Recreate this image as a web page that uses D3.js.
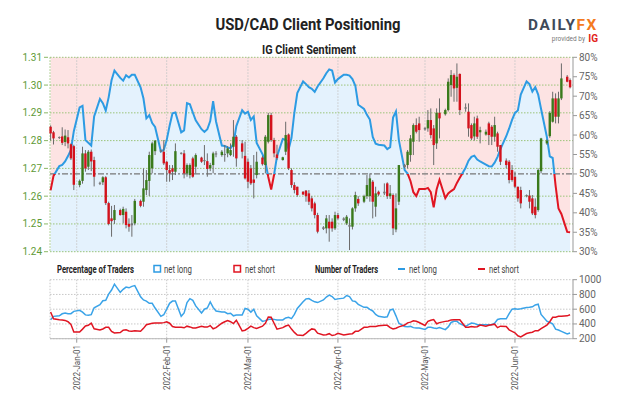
<!DOCTYPE html>
<html><head><meta charset="utf-8">
<script src="https://cdn.jsdelivr.net/npm/d3@7"></script>
<style>body{margin:0;background:#fff;} svg{display:block;font-family:Roboto,"Liberation Sans",Arial,sans-serif;}</style>
</head><body><svg id="chart" width="624" height="416"></svg>
<script>
const dates = [
"2021-12-23","2021-12-24","2021-12-26","2021-12-27","2021-12-28","2021-12-29","2021-12-30","2021-12-31",
"2022-01-02","2022-01-03","2022-01-04","2022-01-05","2022-01-06","2022-01-07",
"2022-01-09","2022-01-10","2022-01-11","2022-01-12","2022-01-13","2022-01-14",
"2022-01-16","2022-01-17","2022-01-18","2022-01-19","2022-01-20","2022-01-21",
"2022-01-23","2022-01-24","2022-01-25","2022-01-26","2022-01-27","2022-01-28",
"2022-01-30","2022-01-31","2022-02-01","2022-02-02","2022-02-03","2022-02-04",
"2022-02-06","2022-02-07","2022-02-08","2022-02-09","2022-02-10","2022-02-11",
"2022-02-13","2022-02-14","2022-02-15","2022-02-16","2022-02-17","2022-02-18",
"2022-02-20","2022-02-21","2022-02-22","2022-02-23","2022-02-24","2022-02-25",
"2022-02-27","2022-02-28","2022-03-01","2022-03-02","2022-03-03","2022-03-04",
"2022-03-06","2022-03-07","2022-03-08","2022-03-09","2022-03-10","2022-03-11",
"2022-03-13","2022-03-14","2022-03-15","2022-03-16","2022-03-17","2022-03-18",
"2022-03-20","2022-03-21","2022-03-22","2022-03-23","2022-03-24","2022-03-25",
"2022-03-27","2022-03-28","2022-03-29","2022-03-30","2022-03-31","2022-04-01",
"2022-04-03","2022-04-04","2022-04-05","2022-04-06","2022-04-07","2022-04-08",
"2022-04-10","2022-04-11","2022-04-12","2022-04-13","2022-04-14","2022-04-15",
"2022-04-17","2022-04-18","2022-04-19","2022-04-20","2022-04-21","2022-04-22",
"2022-04-24","2022-04-25","2022-04-26","2022-04-27","2022-04-28","2022-04-29",
"2022-05-01","2022-05-02","2022-05-03","2022-05-04","2022-05-05","2022-05-06",
"2022-05-08","2022-05-09","2022-05-10","2022-05-11","2022-05-12","2022-05-13",
"2022-05-15","2022-05-16","2022-05-17","2022-05-18","2022-05-19","2022-05-20",
"2022-05-22","2022-05-23","2022-05-24","2022-05-25","2022-05-26","2022-05-27",
"2022-05-29","2022-05-30","2022-05-31","2022-06-01","2022-06-02","2022-06-03",
"2022-06-05","2022-06-06","2022-06-07","2022-06-08","2022-06-09","2022-06-10",
"2022-06-12","2022-06-13","2022-06-14","2022-06-15","2022-06-16","2022-06-17",
"2022-06-19","2022-06-20"];

const open = [
1.2850,1.2830,1.2810,1.2815,1.2795,1.2812,1.2787,1.2780,
1.2640,1.2655,1.2754,1.2706,1.2760,1.2730,
1.2645,1.2650,1.2668,1.2575,1.2520,1.2514,
1.2550,1.2532,1.2544,1.2500,1.2495,1.2502,
1.2583,1.2580,1.2622,1.2655,1.2700,1.2762,
1.2765,1.2760,1.2724,1.2694,1.2700,1.2688,
1.2754,1.2754,1.2682,1.2676,1.2736,1.2706,
1.2739,1.2730,1.2726,1.2700,1.2712,1.2754,
1.2748,1.2752,1.2754,1.2748,1.2778,1.2814,
1.2790,1.2745,1.2724,1.2700,1.2660,1.2676,
1.2739,1.2712,1.2796,1.2892,1.2802,1.2750,
1.2730,1.2760,1.2822,1.2694,1.2640,1.2634,
1.2616,1.2620,1.2610,1.2592,1.2574,1.2532,
1.2488,1.2484,1.2508,1.2508,1.2484,1.2532,
1.2520,1.2502,1.2496,1.2490,1.2556,1.2590,
1.2580,1.2600,1.2600,1.2652,1.2562,1.2616,
1.2610,1.2646,1.2600,1.2604,1.2480,1.2580,
1.2705,1.2712,1.2748,1.2796,1.2856,1.2862,
1.2840,1.2844,1.2874,1.2844,1.2790,1.2900,
1.2895,1.2910,1.3000,1.3036,1.2990,1.3040,
1.2920,1.2904,1.2856,1.2815,1.2880,1.2830,
1.2822,1.2862,1.2850,1.2814,1.2826,1.2784,
1.2728,1.2724,1.2694,1.2670,1.2634,1.2622,
1.2600,1.2602,1.2592,1.2562,1.2550,1.2690,
1.2790,1.2816,1.2868,1.2952,1.2886,1.2952,
1.3030,1.3018];

const high = [
1.2855,1.2835,1.2815,1.2848,1.2840,1.2838,1.2790,1.2785,
1.2660,1.2778,1.2766,1.2766,1.2768,1.2742,
1.2652,1.2672,1.2672,1.2580,1.2565,1.2568,
1.2555,1.2562,1.2556,1.2520,1.2532,1.2590,
1.2588,1.2700,1.2694,1.2760,1.2796,1.2802,
1.2768,1.2802,1.2726,1.2712,1.2712,1.2790,
1.2758,1.2766,1.2718,1.2718,1.2742,1.2754,
1.2742,1.2784,1.2754,1.2720,1.2760,1.2762,
1.2766,1.2784,1.2780,1.2790,1.2874,1.2820,
1.2802,1.2796,1.2736,1.2712,1.2748,1.2760,
1.2745,1.2820,1.2900,1.2900,1.2810,1.2785,
1.2742,1.2868,1.2826,1.2700,1.2650,1.2634,
1.2618,1.2622,1.2622,1.2600,1.2580,1.2540,
1.2492,1.2532,1.2532,1.2520,1.2544,1.2540,
1.2524,1.2532,1.2520,1.2560,1.2616,1.2600,
1.2605,1.2676,1.2682,1.2658,1.2634,1.2620,
1.2646,1.2650,1.2640,1.2610,1.2610,1.2712,
1.2716,1.2766,1.2820,1.2862,1.2880,1.2886,
1.2848,1.2910,1.2916,1.2856,1.2916,1.2952,
1.2915,1.3024,1.3054,1.3042,1.3078,1.3042,
1.2934,1.2934,1.2862,1.2886,1.2890,1.2850,
1.2840,1.2868,1.2856,1.2886,1.2832,1.2784,
1.2736,1.2730,1.2712,1.2688,1.2634,1.2634,
1.2606,1.2622,1.2604,1.2592,1.2700,1.2810,
1.2805,1.2906,1.2976,1.2970,1.2976,1.3078,
1.3036,1.3024];

const low = [
1.2800,1.2786,1.2806,1.2784,1.2780,1.2772,1.2730,1.2622,
1.2632,1.2645,1.2688,1.2694,1.2690,1.2635,
1.2640,1.2640,1.2568,1.2495,1.2454,1.2500,
1.2530,1.2502,1.2484,1.2472,1.2454,1.2495,
1.2560,1.2562,1.2604,1.2600,1.2682,1.2748,
1.2758,1.2712,1.2652,1.2652,1.2658,1.2676,
1.2750,1.2664,1.2670,1.2664,1.2666,1.2682,
1.2720,1.2712,1.2670,1.2690,1.2682,1.2740,
1.2742,1.2724,1.2740,1.2744,1.2742,1.2706,
1.2736,1.2660,1.2628,1.2640,1.2592,1.2664,
1.2710,1.2682,1.2790,1.2796,1.2740,1.2730,
1.2728,1.2748,1.2694,1.2630,1.2610,1.2598,
1.2604,1.2580,1.2568,1.2545,1.2520,1.2466,
1.2478,1.2466,1.2436,1.2472,1.2478,1.2515,
1.2510,1.2496,1.2406,1.2480,1.2544,1.2565,
1.2575,1.2590,1.2580,1.2520,1.2526,1.2600,
1.2604,1.2590,1.2590,1.2460,1.2470,1.2568,
1.2700,1.2700,1.2724,1.2748,1.2826,1.2796,
1.2836,1.2832,1.2808,1.2712,1.2770,1.2808,
1.2890,1.2905,1.2958,1.2940,1.2940,1.2892,
1.2904,1.2814,1.2802,1.2800,1.2806,1.2790,
1.2818,1.2784,1.2784,1.2796,1.2760,1.2712,
1.2700,1.2646,1.2652,1.2628,1.2580,1.2556,
1.2596,1.2556,1.2532,1.2520,1.2544,1.2682,
1.2785,1.2810,1.2865,1.2862,1.2862,1.2946,
1.3010,1.2988];

const close = [
1.2826,1.2808,1.2813,1.2792,1.2818,1.2790,1.2736,1.2641,
1.2655,1.2754,1.2700,1.2760,1.2725,1.2670,
1.2648,1.2668,1.2575,1.2500,1.2510,1.2550,
1.2532,1.2554,1.2496,1.2490,1.2502,1.2583,
1.2565,1.2628,1.2658,1.2748,1.2790,1.2800,
1.2760,1.2718,1.2694,1.2682,1.2688,1.2762,
1.2756,1.2682,1.2712,1.2712,1.2670,1.2748,
1.2724,1.2726,1.2698,1.2712,1.2754,1.2750,
1.2760,1.2748,1.2772,1.2766,1.2814,1.2736,
1.2760,1.2664,1.2652,1.2646,1.2648,1.2724,
1.2715,1.2814,1.2892,1.2802,1.2754,1.2737,
1.2740,1.2820,1.2700,1.2640,1.2622,1.2604,
1.2606,1.2600,1.2580,1.2556,1.2532,1.2472,
1.2482,1.2520,1.2484,1.2484,1.2532,1.2520,
1.2514,1.2526,1.2490,1.2556,1.2604,1.2574,
1.2600,1.2640,1.2664,1.2580,1.2610,1.2606,
1.2616,1.2600,1.2610,1.2484,1.2556,1.2712,
1.2712,1.2760,1.2808,1.2856,1.2832,1.2838,
1.2846,1.2874,1.2820,1.2784,1.2900,1.2880,
1.2910,1.3012,1.3036,1.2988,1.3030,1.2910,
1.2915,1.2844,1.2808,1.2862,1.2814,1.2838,
1.2832,1.2820,1.2814,1.2856,1.2778,1.2724,
1.2712,1.2658,1.2658,1.2634,1.2592,1.2574,
1.2604,1.2580,1.2538,1.2532,1.2694,1.2808,
1.2800,1.2900,1.2952,1.2886,1.2952,1.3024,
1.3012,1.2992];

const pctLong = [
45.8,49.5,52.0,52.3,53.2,54.6,56.2,61.0,
67.1,67.5,58.7,58.0,57.3,64.8,
69.3,68.2,66.3,69.7,74.1,76.6,
74.7,74.0,75.4,74.8,75.5,75.5,
72.3,69.4,64.3,65.1,63.1,62.1,
55.8,56.2,58.7,62.4,65.6,65.8,
60.7,61.2,68.2,67.9,65.8,63.8,
61.5,60.8,61.5,63.6,68.7,63.5,
57.3,57.2,56.8,56.6,57.7,62.3,
66.4,65.5,66.0,63.9,64.8,58.0,
55.1,53.2,49.2,46.0,49.8,54.5,
59.0,58.8,56.3,59.3,65.8,70.8,
73.8,73.1,72.3,71.9,71.1,72.5,
74.6,75.9,76.9,76.6,73.5,74.4,
75.5,75.5,75.3,74.4,72.7,67.8,
66.7,65.2,64.0,59.5,57.8,57.5,
57.3,56.4,56.9,64.5,66.1,58.7,
51.0,50.1,48.2,45.3,44.3,46.1,
46.1,46.4,45.3,41.4,46.0,48.5,
43.8,45.0,45.6,46.1,47.7,49.0,
51.6,53.4,54.4,54.7,53.7,53.2,
52.4,52.0,51.9,52.9,54.4,56.4,
59.7,61.7,63.9,65.7,66.3,70.4,
73.8,73.1,71.2,72.3,70.4,66.7,
59.5,54.5,54.1,47.0,41.1,39.7,
35.1,35.0];

const longTraders = [
458,503,510,538,548,540,540,571,
585,560,523,517,526,620,
661,715,720,805,860,940,
828,870,900,890,910,920,
768,725,710,680,680,616,
503,525,600,680,710,710,
503,550,690,743,720,645,
548,600,616,700,625,575,
562,562,540,545,510,520,
520,610,600,560,600,510,
435,445,460,468,462,455,
455,482,490,473,530,610,
700,740,745,720,700,690,
725,765,790,772,732,740,
750,785,770,712,704,665,
625,625,597,576,530,503,
492,498,590,600,510,410,
365,362,367,350,345,345,
325,354,354,345,340,350,
323,360,420,435,435,403,
368,390,412,408,390,390,
390,390,390,410,460,470,
470,540,600,605,600,606,
623,625,632,658,668,530,
437,420,402,330,318,300,
264,277];

const shortTraders = [
562,470,458,455,448,430,395,290,
292,330,372,381,410,335,
318,332,354,354,300,277,
283,315,320,305,300,307,
300,340,390,400,408,412,
412,418,430,410,365,354,
354,348,370,360,345,345,
370,360,358,378,335,350,
410,430,445,430,405,450,
305,315,340,370,350,338,
370,410,495,490,410,330,
350,372,385,330,285,250,
245,272,305,333,325,275,
250,255,268,243,252,272,
250,258,264,268,300,300,
354,354,366,366,367,375,
381,381,350,332,342,360,
385,415,425,443,437,420,
380,435,450,460,403,418,
435,440,455,458,458,458,
355,354,365,360,362,385,
370,381,390,397,350,370,
365,320,300,280,240,225,
270,280,288,309,309,335,
385,430,490,492,503,503,
510,524];

const priceTicks = [1.24,1.25,1.26,1.27,1.28,1.29,1.30,1.31];
const pctTicks = [30,35,40,45,50,55,60,65,70,75,80];
const countTicks = [200,400,600,800,1000];
const monthTicks = ["2022-01-01","2022-02-01","2022-03-01","2022-04-01","2022-05-01","2022-06-01"];

const svg = d3.select("#chart");
const X0 = 50, X1 = 573, Y0 = 57.3, Y1 = 251.7, B0 = 279.7, B1 = 338.7;
const parse = d3.utcParse("%Y-%m-%d");
const x = d3.scaleUtc().domain([new Date(Date.UTC(2021,11,22,19)), new Date(Date.UTC(2022,5,21))]).range([X0, X1]);
const yP = d3.scaleLinear().domain([1.24,1.31]).range([Y1,Y0]);
const yS = d3.scaleLinear().domain([30,80]).range([Y1,Y0]);
const yC = d3.scaleLinear().domain([200,1000]).range([B1,B0]);
const data = dates.map((d,i)=>({date:parse(d), o:open[i], h:high[i], l:low[i], c:close[i], p:pctLong[i], nl:longTraders[i], ns:shortTraders[i]}));
const months = monthTicks.map(parse);

const BLUE = "#2d9be3", RED = "#e01522";

// Titles
svg.append("text").attr("x",308).attr("y",30).attr("text-anchor","middle")
  .attr("font-size",17).attr("font-weight","bold").attr("fill","#222")
  .attr("textLength",185).attr("lengthAdjust","spacingAndGlyphs").text("USD/CAD Client Positioning");
svg.append("text").attr("x",309).attr("y",54).attr("text-anchor","middle")
  .attr("font-size",12).attr("font-weight","bold").attr("fill","#222")
  .attr("textLength",94).attr("lengthAdjust","spacingAndGlyphs").text("IG Client Sentiment");
// logo
const logo = svg.append("text").attr("x",528).attr("y",30).attr("font-size",14).attr("font-weight","bold")
  .attr("letter-spacing",1.5).attr("textLength",70).attr("lengthAdjust","spacingAndGlyphs");
logo.append("tspan").attr("fill","#3e4a5a").text("DAILY");
logo.append("tspan").attr("fill","#f47a20").text("FX");
svg.append("text").attr("x",585).attr("y",41).attr("text-anchor","end").attr("font-size",6.5).attr("fill","#777").text("provided by");
svg.append("text").attr("x",598).attr("y",41.5).attr("text-anchor","end").attr("font-size",10).attr("font-weight","bold").attr("fill","#e2231a").text("IG");

// fills
svg.append("path").datum(data).attr("fill","#fde3e3")
  .attr("d", d3.area().x(d=>x(d.date)).y0(Y0).y1(d=>yS(d.p)));
svg.append("path").datum(data).attr("fill","#e4f2fd")
  .attr("d", d3.area().x(d=>x(d.date)).y0(Y1).y1(d=>yS(d.p)));

// grid main
const g = svg.append("g");
g.selectAll(".vg").data(months).join("line").attr("x1",d=>x(d)).attr("x2",d=>x(d))
  .attr("y1",Y0).attr("y2",Y1).attr("stroke","#c8c8c8").attr("stroke-dasharray","1.5,1.5");
g.selectAll(".hg").data(priceTicks).join("line").attr("x1",X0).attr("x2",X1)
  .attr("y1",d=>yP(d)).attr("y2",d=>yP(d)).attr("stroke","#9cc47a").attr("stroke-dasharray","1.5,1.5");
g.append("line").attr("x1",X0).attr("x2",X0).attr("y1",Y0).attr("y2",Y1).attr("stroke","#9cc47a").attr("stroke-dasharray","1.5,1.5");
g.append("line").attr("x1",X0).attr("x2",X1).attr("y1",yS(50)).attr("y2",yS(50))
  .attr("stroke","#777").attr("stroke-width",1.3).attr("stroke-dasharray","6,2,2,2");

// sentiment line, split at 50%
const defs = svg.append("defs");
defs.append("clipPath").attr("id","above").append("rect").attr("x",0).attr("y",0).attr("width",624).attr("height",yS(50));
defs.append("clipPath").attr("id","below").append("rect").attr("x",0).attr("y",yS(50)).attr("width",624).attr("height",416);
const sLine = d3.line().x(d=>x(d.date)).y(d=>yS(d.p));
svg.append("path").datum(data).attr("d",sLine).attr("fill","none").attr("stroke",BLUE).attr("stroke-width",2).attr("clip-path","url(#above)");
svg.append("path").datum(data).attr("d",sLine).attr("fill","none").attr("stroke",RED).attr("stroke-width",2).attr("clip-path","url(#below)");

// candles
const cg = svg.append("g");
cg.selectAll("line").data(data).join("line")
  .attr("x1",d=>x(d.date)).attr("x2",d=>x(d.date)).attr("y1",d=>yP(d.h)).attr("y2",d=>yP(d.l))
  .attr("stroke","#6b6b6b").attr("stroke-width",1);
cg.selectAll("rect").data(data).join("rect")
  .attr("x",d=>x(d.date)-1.2).attr("width",2.4)
  .attr("y",d=>yP(Math.max(d.o,d.c))).attr("height",d=>Math.max(1,Math.abs(yP(d.o)-yP(d.c))))
  .attr("fill",d=> Math.abs(d.c-d.o)<0.0008 ? "#777" : (d.c>d.o ? "#3a7a1c" : "#d3121c"));

// left axis
const la = svg.append("g");
la.selectAll("text").data(priceTicks).join("text").attr("x",42).attr("y",d=>yP(d)).attr("dy","0.35em")
  .attr("text-anchor","end").attr("font-size",10).attr("fill","#5e9a35").text(d=>d.toFixed(2));
la.selectAll("line").data(priceTicks).join("line").attr("x1",44).attr("x2",48).attr("y1",d=>yP(d)).attr("y2",d=>yP(d))
  .attr("stroke","#8ab866");
// right axis
const ra = svg.append("g");
ra.append("line").attr("x1",X1).attr("x2",X1).attr("y1",Y0).attr("y2",Y1).attr("stroke","#999");
ra.selectAll("line.t").data(pctTicks).join("line").attr("class","t").attr("x1",X1).attr("x2",X1+4)
  .attr("y1",d=>yS(d)).attr("y2",d=>yS(d)).attr("stroke","#999");
ra.selectAll("text").data(pctTicks).join("text").attr("x",X1+6).attr("y",d=>yS(d)).attr("dy","0.35em")
  .attr("font-size",10).attr("fill","#666").text(d=>d+"%");

// legend
const lg = svg.append("g").attr("font-size",10).attr("fill","#333");
const LY = 269;
lg.append("text").attr("x",57).attr("y",LY).attr("dy","0.35em").attr("font-weight","bold").attr("fill","#222")
  .attr("textLength",77).attr("lengthAdjust","spacingAndGlyphs").text("Percentage of Traders");
lg.append("rect").attr("x",154).attr("y",LY-3.5).attr("width",6.5).attr("height",6.5).attr("fill","#fff").attr("stroke",BLUE).attr("stroke-width",1.5);
lg.append("text").attr("x",164).attr("y",LY).attr("dy","0.35em").attr("fill","#444").attr("textLength",28).attr("lengthAdjust","spacingAndGlyphs").text("net long");
lg.append("rect").attr("x",234).attr("y",LY-3.5).attr("width",6.5).attr("height",6.5).attr("fill","#fff").attr("stroke",RED).attr("stroke-width",1.5);
lg.append("text").attr("x",245).attr("y",LY).attr("dy","0.35em").attr("fill","#444").attr("textLength",30).attr("lengthAdjust","spacingAndGlyphs").text("net short");
lg.append("text").attr("x",315).attr("y",LY).attr("dy","0.35em").attr("font-weight","bold").attr("fill","#222")
  .attr("textLength",63).attr("lengthAdjust","spacingAndGlyphs").text("Number of Traders");
lg.append("line").attr("x1",398).attr("x2",405).attr("y1",LY).attr("y2",LY).attr("stroke",BLUE).attr("stroke-width",2);
lg.append("text").attr("x",409).attr("y",LY).attr("dy","0.35em").attr("fill","#444").attr("textLength",28).attr("lengthAdjust","spacingAndGlyphs").text("net long");
lg.append("line").attr("x1",478).attr("x2",485).attr("y1",LY).attr("y2",LY).attr("stroke",RED).attr("stroke-width",2);
lg.append("text").attr("x",489).attr("y",LY).attr("dy","0.35em").attr("fill","#444").attr("textLength",30).attr("lengthAdjust","spacingAndGlyphs").text("net short");

// bottom panel
const bg = svg.append("g");
bg.selectAll(".vg").data(months).join("line").attr("x1",d=>x(d)).attr("x2",d=>x(d))
  .attr("y1",B0).attr("y2",B1).attr("stroke","#c8c8c8").attr("stroke-dasharray","1.5,1.5");
bg.selectAll(".hg").data(countTicks).join("line").attr("x1",X0).attr("x2",X1)
  .attr("y1",d=>yC(d)).attr("y2",d=>yC(d)).attr("stroke","#c8c8c8").attr("stroke-dasharray","1.5,1.5");
bg.append("line").attr("x1",X0).attr("x2",X0).attr("y1",B0).attr("y2",B1).attr("stroke","#c8c8c8").attr("stroke-dasharray","1.5,1.5");
bg.append("line").attr("x1",X0).attr("x2",X1).attr("y1",B1).attr("y2",B1).attr("stroke","#bbb");
bg.selectAll(".xt").data(months).join("line").attr("x1",d=>x(d)).attr("x2",d=>x(d))
  .attr("y1",B1).attr("y2",B1+4).attr("stroke","#999");
svg.append("path").datum(data).attr("fill","none").attr("stroke","#3aa3e8").attr("stroke-width",1.5)
  .attr("d", d3.line().x(d=>x(d.date)).y(d=>yC(d.nl)));
svg.append("path").datum(data).attr("fill","none").attr("stroke",RED).attr("stroke-width",1.5)
  .attr("d", d3.line().x(d=>x(d.date)).y(d=>yC(d.ns)));
const ba = svg.append("g");
ba.append("line").attr("x1",X1).attr("x2",X1).attr("y1",B0).attr("y2",B1).attr("stroke","#999");
ba.selectAll("line.t").data(countTicks).join("line").attr("class","t").attr("x1",X1).attr("x2",X1+4)
  .attr("y1",d=>yC(d)).attr("y2",d=>yC(d)).attr("stroke","#999");
ba.selectAll("text").data(countTicks).join("text").attr("x",X1+6).attr("y",d=>yC(d)).attr("dy","0.35em")
  .attr("font-size",10).attr("fill","#666").text(d=>d);

// x labels
const fmt = d3.utcFormat("%Y-%b-%d");
svg.append("g").selectAll("text").data(months).join("text")
  .attr("transform",d=>`translate(${x(d)},345) rotate(-90)`).attr("dy","0.35em").attr("text-anchor","end")
  .attr("font-size",9.5).attr("fill","#555").attr("textLength",45).attr("lengthAdjust","spacingAndGlyphs")
  .text(d=>fmt(d));
</script></body></html>
